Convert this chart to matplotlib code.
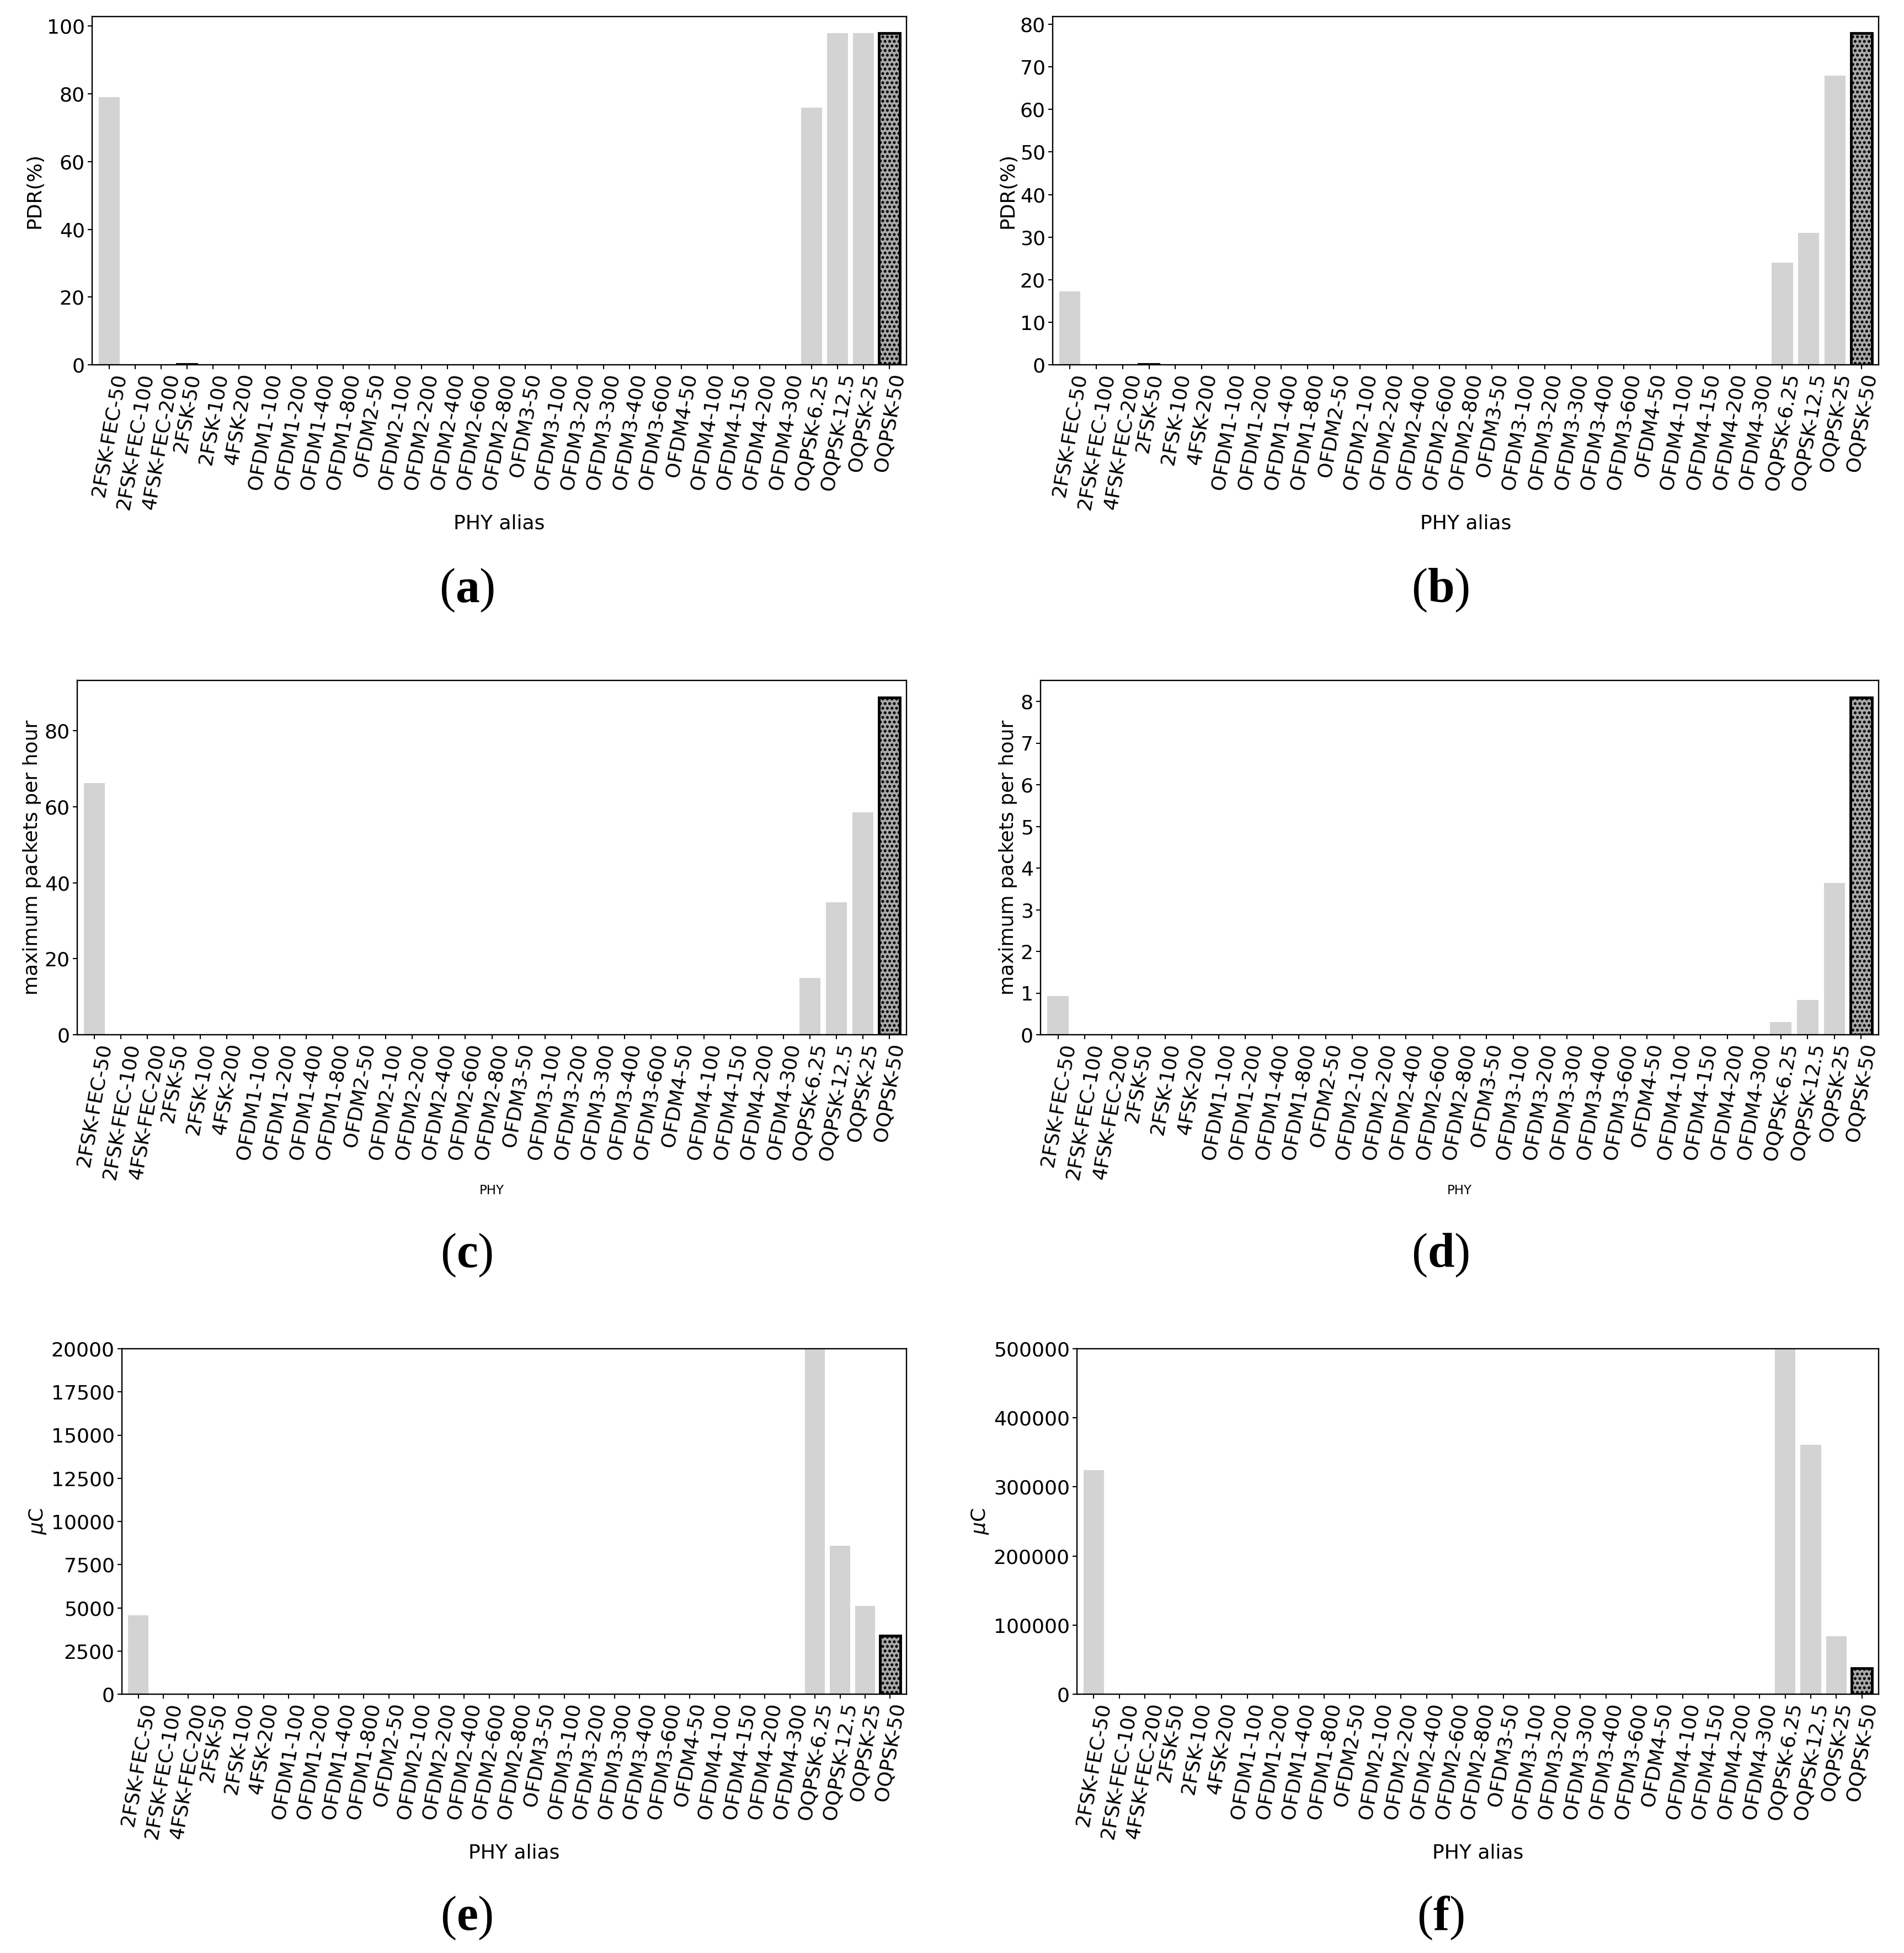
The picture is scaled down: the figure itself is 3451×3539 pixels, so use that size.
import matplotlib
matplotlib.use("Agg")
import matplotlib.pyplot as plt
from matplotlib.ticker import MultipleLocator

# PHY aliases on the x axis (same for every panel)
phy = [
    "2FSK-FEC-50", "2FSK-FEC-100", "4FSK-FEC-200", "2FSK-50", "2FSK-100", "4FSK-200",
    "OFDM1-100", "OFDM1-200", "OFDM1-400", "OFDM1-800",
    "OFDM2-50", "OFDM2-100", "OFDM2-200", "OFDM2-400", "OFDM2-600", "OFDM2-800",
    "OFDM3-50", "OFDM3-100", "OFDM3-200", "OFDM3-300", "OFDM3-400", "OFDM3-600",
    "OFDM4-50", "OFDM4-100", "OFDM4-150", "OFDM4-200", "OFDM4-300",
    "OQPSK-6.25", "OQPSK-12.5", "OQPSK-25", "OQPSK-50",
]

# (a) PDR, (b) PDR
pdr_a = [79, 0, 0, 0.3] + [0] * 23 + [76, 98, 98, 98]
pdr_b = [17.2, 0, 0, 0.3] + [0] * 23 + [24, 31, 68, 78]
# (c), (d) maximum packets per hour
pph_c = [66.2] + [0] * 26 + [15, 34.9, 58.5, 88.8]
pph_d = [0.93] + [0] * 26 + [0.3, 0.84, 3.64, 8.1]
# (e), (f) charge in uC (OQPSK-6.25 runs off the top)
uc_e = [4560] + [0] * 26 + [45000, 8600, 5100, 3400]
uc_f = [324000] + [0] * 26 + [1200000, 360800, 83500, 37400]

FS = 26
W, H = 3451, 3539
fig = plt.figure(figsize=(W / 100, H / 100), dpi=100)
plt.rcParams["mathtext.fontset"] = "custom"
plt.rcParams["mathtext.rm"] = "DejaVu Sans"
plt.rcParams["mathtext.it"] = "DejaVu Sans:italic"
plt.rcParams["mathtext.bf"] = "Liberation Serif:bold"
plt.rcParams["hatch.linewidth"] = 2.5


def panel(box, values, ylabel, xlabel, ystep, xlabel_size=FS, ylim=None, tiny_edge=False):
    l, t, r, b = box
    ax = fig.add_axes([l / W, 1 - b / H, (r - l) / W, (b - t) / H])
    x = list(range(len(phy)))
    bars = ax.bar(x, values, width=0.8, color="lightgray")
    last = bars[-1]
    last.set_facecolor("darkgray")
    last.set_edgecolor("black")
    last.set_linewidth(3.5)
    last.set_hatch("..")
    if tiny_edge:
        bars[3].set_edgecolor("black")
        bars[3].set_linewidth(1.5)
    ax.axhline(0, color="#b22222", linestyle="--", linewidth=1.2)
    ax.set_xlim(-0.65, len(phy) - 0.35)
    if ylim is not None:
        ax.set_ylim(*ylim)
    ax.yaxis.set_major_locator(MultipleLocator(ystep))
    ax.set_xticks(x)
    ax.set_xticklabels(phy, rotation=80)
    ax.tick_params(labelsize=FS, length=6, width=1.5)
    for s in ax.spines.values():
        s.set_linewidth(1.7)
    ax.set_ylabel(ylabel, fontsize=FS)
    ax.set_xlabel(xlabel, fontsize=xlabel_size)
    return ax


panel((167, 29.5, 1643, 661), pdr_a, "PDR(%)", "PHY alias", 20, tiny_edge=True)
panel((1908, 29.5, 3405, 661), pdr_b, "PDR(%)", "PHY alias", 10, tiny_edge=True)
panel((140, 1233, 1643, 1875), pph_c, "maximum packets per hour", "PHY", 20, xlabel_size=16.5)
panel((1886, 1233, 3405, 1875), pph_d, "maximum packets per hour", "PHY", 1, xlabel_size=16.5)
panel((221, 2444, 1643, 3070), uc_e, r"$\mu$C", "PHY alias", 2500, ylim=(0, 20000))
panel((1952, 2444, 3405, 3070), uc_f, r"$\mu$C", "PHY alias", 100000, ylim=(0, 500000))

captions = ["a", "b", "c", "d", "e", "f"]
cx = [846, 2611]
cy = [1070, 2275, 3476]
for i, c in enumerate(captions):
    fig.text(cx[i % 2] / W, 1 - cy[i // 2] / H, "($\\mathbf{%s}$)" % c,
             fontsize=63, family="Liberation Serif", ha="center", va="center")

fig.savefig("out.png", dpi=100)
